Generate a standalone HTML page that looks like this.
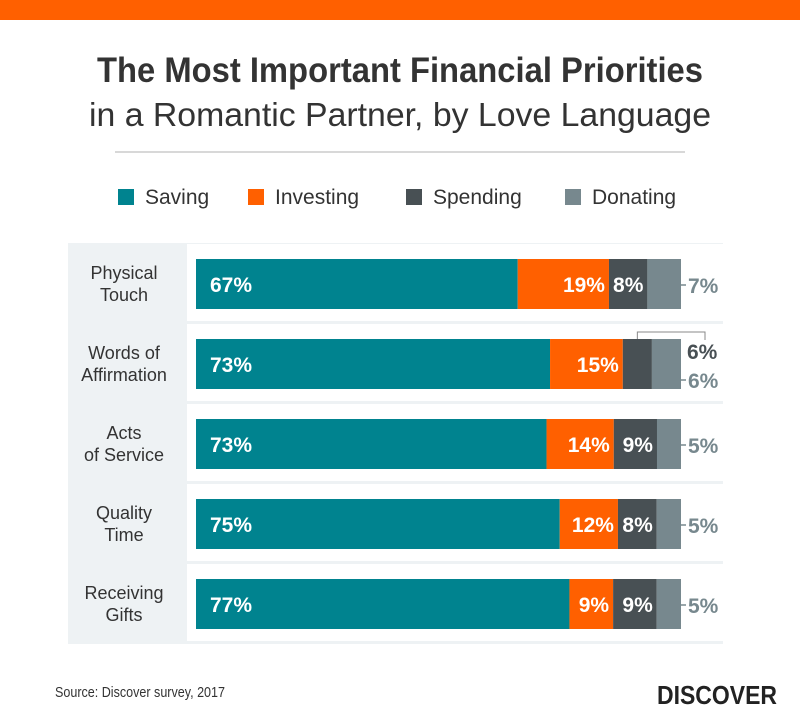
<!DOCTYPE html>
<html><head><meta charset="utf-8"><style>
html,body{margin:0;padding:0;background:#fff;}
svg{display:block;font-family:"Liberation Sans",sans-serif;}
</style></head><body>
<svg id="chart" width="800" height="722" viewBox="0 0 800 722">
<rect x="0" y="0" width="800" height="20" fill="#ff6000"/>
<text x="400" y="82" text-anchor="middle" font-size="35" font-weight="bold" fill="#333" textLength="606" lengthAdjust="spacingAndGlyphs">The Most Important Financial Priorities</text>
<text x="400" y="126" text-anchor="middle" font-size="33" fill="#333" textLength="622" lengthAdjust="spacingAndGlyphs">in a Romantic Partner, by Love Language</text>
<line x1="115" y1="152" x2="685" y2="152" stroke="#ccc" stroke-width="1.5"/>
<g id="legend"></g>
<rect x="68" y="243" width="655" height="401" fill="#eef2f4"/>
<g id="rows"></g>
<text x="55" y="697" font-size="15" fill="#333" textLength="170" lengthAdjust="spacingAndGlyphs">Source: Discover survey, 2017</text>
<g>
<text x="657" y="704" font-size="26" font-weight="bold" fill="#222" textLength="120" lengthAdjust="spacingAndGlyphs">DISCOVER</text>
</g>
</svg>
<script>
const categories = [["Physical","Touch"],["Words of","Affirmation"],["Acts","of Service"],["Quality","Time"],["Receiving","Gifts"]];
const saving = [67,73,73,75,77];
const investing = [19,15,14,12,9];
const spending = [8,6,9,8,9];
const donating = [7,6,5,5,5];
const seriesNames = ["Saving","Investing","Spending","Donating"];
const colors = ["#00838f","#ff6000","#485054","#77888e"];
const NS = "http://www.w3.org/2000/svg";
function mk(tag, attrs, parent){const e=document.createElementNS(NS,tag);for(const k in attrs)e.setAttribute(k,attrs[k]);parent.appendChild(e);return e;}

const legend=document.getElementById('legend');
const legX=[118,248,406,565];
seriesNames.forEach((n,i)=>{
  const r=mk('rect',{x:legX[i],y:189,width:16,height:16,fill:colors[i]},legend);
  
  
  const t=mk('text',{x:legX[i]+27,y:204,'font-size':21,fill:'#333'},legend);
  t.textContent=n;
  
  
});

const rows=document.getElementById('rows');
const x0=196, W=485, rowTop=244, rowH=80;
function xs(v,total){return v/total*W;}
categories.forEach((c,i)=>{
  const y=rowTop+i*rowH;
  const bg=mk('rect',{x:187,y:y,width:536,height:77,fill:'#fff'},rows);
  
  
  const lab=mk('text',{x:124,'text-anchor':'middle','font-size':18,fill:'#333'},rows);
  
  
  c.forEach((ln,j)=>{const ts=mk('tspan',{x:124,y:y+35+j*22},lab);ts.textContent=ln;});
  const vals=[saving[i],investing[i],spending[i],donating[i]];
  const total=vals.reduce((a,b)=>a+b,0);
  let cx=x0; const by=y+15, bh=50;
  vals.forEach((v,k)=>{
    const w=xs(v,total);
    const r=mk('rect',{x:cx,y:by,width:w,height:bh,fill:colors[k]},rows);
    
    
    let t=null;
    if(k===0){t=mk('text',{x:cx+14,y:by+33,'font-size':21,'font-weight':'bold',fill:'#fff'},rows);}
    else if(k<3 && !(k===2 && w<35)){t=mk('text',{x:cx+w-4,y:by+33,'font-size':21,'font-weight':'bold',fill:'#fff','text-anchor':'end'},rows);}
    else if(k===2){
      const p=mk('path',{d:`M${cx+w/2} ${by} V${by-7} H${x0+W+24} V${by+1}`,fill:'none',stroke:'#888','stroke-width':1},rows);
      
      
      t=mk('text',{x:x0+W+6,y:by+20,'font-size':21,'font-weight':'bold',fill:'#485054'},rows);
    }
    else {
      const yy = (w<35 && xs(vals[2],total)<35)? by+49 : by+34;
      const l=mk('line',{x1:x0+W,y1:yy-8,x2:x0+W+5,y2:yy-8,stroke:'#77888e','stroke-width':1.5},rows);
      
      
      t=mk('text',{x:x0+W+7,y:yy,'font-size':21,'font-weight':'bold',fill:'#77888e'},rows);
    }
    t.textContent=v+'%';
    
    
    cx+=w;
  });
});
</script>
</body></html>
